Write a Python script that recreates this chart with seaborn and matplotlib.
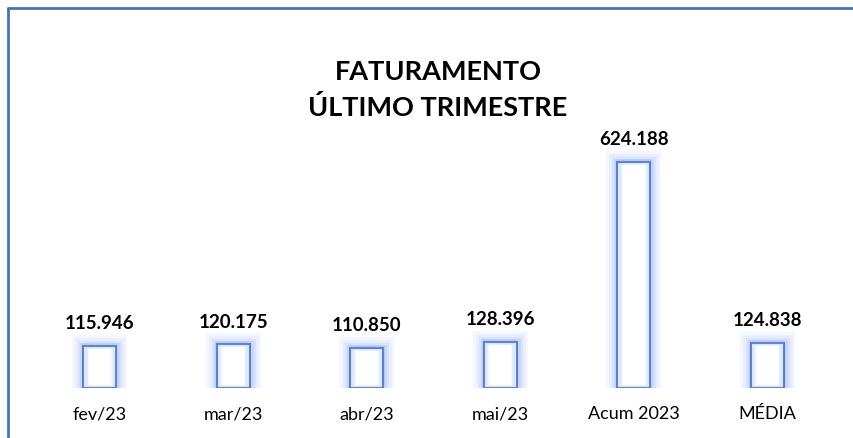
import matplotlib
matplotlib.use("Agg")
import matplotlib.pyplot as plt
import seaborn as sns
import pandas as pd
from matplotlib.lines import Line2D

categories = ["fev/23", "mar/23", "abr/23", "mai/23", "Acum 2023", "MÉDIA"]
values = [115.946, 120.175, 110.850, 128.396, 624.188, 124.838]
value_labels = ["115.946", "120.175", "110.850", "128.396", "624.188", "124.838"]
title_lines = ["FATURAMENTO", "ÚLTIMO TRIMESTRE"]

sns.set_theme(style="white")
plt.rcParams["font.family"] = ["Lato", "DejaVu Sans"]

df = pd.DataFrame({"cat": categories, "val": values})

W, H = 854, 438
fig = plt.figure(figsize=(W / 100, H / 100), dpi=100)
base_y = 388
scale = 0.362
ymax = 700
ax_h = ymax * scale
ax = fig.add_axes([33 / W, (H - base_y) / H, 801 / W, ax_h / H])

blue = "#4472C4"
# glow layers
for lw, a in [(16, 0.07), (12, 0.09), (8, 0.12), (5, 0.16)]:
    sns.barplot(data=df, x="cat", y="val", ax=ax, width=0.25, color="white",
                edgecolor=(0.45, 0.6, 0.95, a), linewidth=lw, saturation=1)
# main bars
sns.barplot(data=df, x="cat", y="val", ax=ax, width=0.25, color="white",
            edgecolor=blue, linewidth=1.5, saturation=1)
# inner light glow
for w, lw, a in [(0.225, 4, 0.22), (0.2, 4, 0.10)]:
    sns.barplot(data=df, x="cat", y="val", ax=ax, width=w, color=(1, 1, 1, 0),
                edgecolor=(0.6, 0.72, 0.98, a), linewidth=lw, saturation=1, fill=False)

for i, (v, lab) in enumerate(zip(values, value_labels)):
    ax.annotate(lab, (i, v), xytext=(0, 10), textcoords="offset points",
                ha="center", va="bottom", fontsize=13.5, fontweight="bold", color="black")

ax.set_ylim(0, ymax)
ax.set_xlim(-0.5, len(categories) - 0.5)
ax.set_xlabel("")
ax.set_ylabel("")
ax.set_yticks([])
ax.tick_params(axis="x", length=0, labelsize=13, pad=13, colors="black")
for s in ax.spines.values():
    s.set_visible(False)
ax.patch.set_alpha(0)

for yy, line in zip([70, 105], title_lines):
    fig.text(438 / W, 1 - yy / H, line, ha="center", va="center_baseline", fontsize=19.5,
             fontweight="bold", color="black")

# chart frame
fig.add_artist(Line2D([8 / W, 8 / W], [0, 1 - 8 / H], transform=fig.transFigure, color=blue, lw=2))
fig.add_artist(Line2D([8 / W, 1], [1 - 8 / H, 1 - 8 / H], transform=fig.transFigure, color=blue, lw=2))

fig.savefig("out.png", dpi=100)
